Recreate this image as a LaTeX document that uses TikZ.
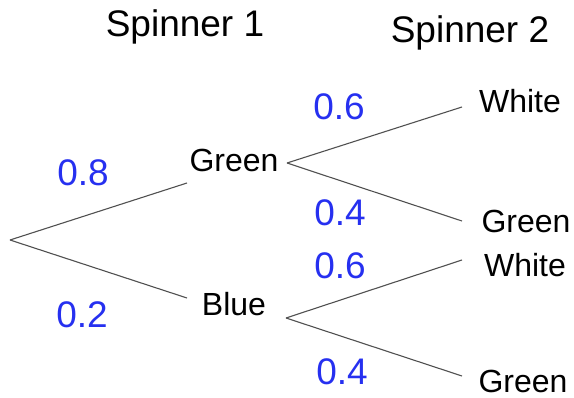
\documentclass[tikz,border=0pt]{standalone}
\usepackage{fontspec}
\setmainfont{Liberation Sans}
\usepackage{tikz}

\definecolor{probblue}{RGB}{38,48,240}
\definecolor{branchgray}{RGB}{80,80,80}

\begin{document}
\begin{tikzpicture}[x=1pt,y=-1pt,
  branch/.style={draw=branchgray,line width=1.1pt},
  title/.style={font=\fontsize{37}{40}\selectfont},
  outcome/.style={font=\fontsize{32}{35}\selectfont},
  prob/.style={text=probblue,font=\fontsize{37}{40}\selectfont}]
\useasboundingbox (0,0) rectangle (574,398);

  % spinner headings
  \node[title] (sp1) at (185,27) {Spinner 1};
  \node[title] (sp2) at (470,33) {Spinner 2};

  % branch points
  \coordinate (root) at (10,240);
  \coordinate (g1in) at (187,183);
  \coordinate (g1out) at (287,163);
  \coordinate (b1in) at (187,298);
  \coordinate (b1out) at (286,318);
  \coordinate (w1end) at (462,107);
  \coordinate (g2end) at (462,221);
  \coordinate (w2end) at (462,260);
  \coordinate (g3end) at (462,376);

  % first spinner
  \draw[branch] (root) -- (g1in);
  \draw[branch] (root) -- (b1in);
  \node[outcome] (green1) at (234,160) {Green};
  \node[outcome] (blue1) at (234,304) {Blue};
  \node[prob] (p08) at (83,173) {0.8};
  \node[prob] (p02) at (82,315) {0.2};

  % second spinner
  \draw[branch] (g1out) -- (w1end);
  \draw[branch] (g1out) -- (g2end);
  \draw[branch] (b1out) -- (w2end);
  \draw[branch] (b1out) -- (g3end);
  \node[outcome] (white1) at (520,101) {White};
  \node[outcome] (green2) at (526,221) {Green};
  \node[outcome] (white2) at (525,265) {White};
  \node[outcome] (green3) at (523,381) {Green};
  \node[prob] (p06a) at (339,107) {0.6};
  \node[prob] (p04a) at (340,213) {0.4};
  \node[prob] (p06b) at (340,266) {0.6};
  \node[prob] (p04b) at (342,372) {0.4};

\end{tikzpicture}
\end{document}
